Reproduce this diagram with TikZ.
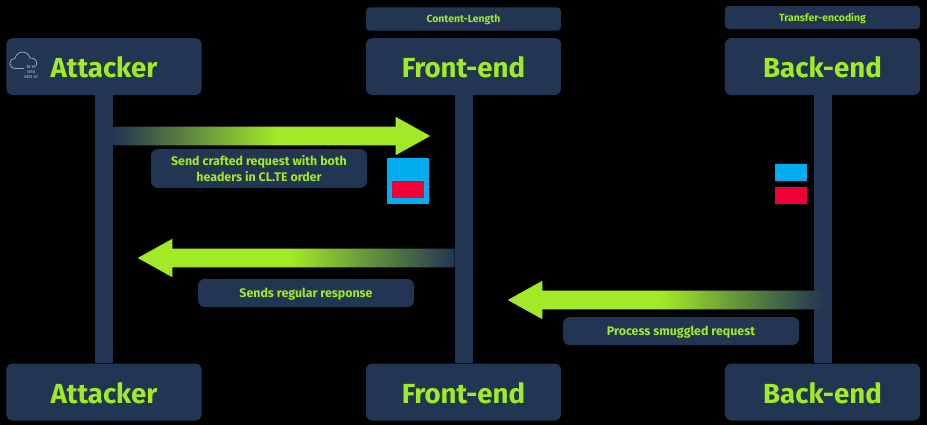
\documentclass[tikz,border=0pt]{standalone}
\usepackage{fontspec}
\setmainfont{Fira Sans}
\usetikzlibrary{shapes.arrows}
\definecolor{boxnavy}{HTML}{223552}
\definecolor{limegreen}{HTML}{A2EA27}
\definecolor{headerblue}{HTML}{00AEEF}
\definecolor{smugglered}{HTML}{EF0037}
\definecolor{cloudgray}{HTML}{9AA3AE}
\pgfdeclarehorizontalshading{fadeup}{100bp}{color(0bp)=(boxnavy); color(25bp)=(boxnavy); color(51bp)=(limegreen); color(100bp)=(limegreen)}
\pgfdeclarehorizontalshading{fadedown}{100bp}{color(0bp)=(limegreen); color(49bp)=(limegreen); color(75bp)=(boxnavy); color(100bp)=(boxnavy)}
\tikzset{
	actor/.style = {rounded corners=5pt, fill=boxnavy, text=limegreen, minimum width=146.5pt, minimum height=42.75pt, text height=16.5pt, text depth=0pt, font=\fontsize{20.7}{20.7}\selectfont\bfseries},
	headerbox/.style = {rounded corners=3pt, fill=boxnavy, text=limegreen, minimum width=146.5pt, minimum height=17.5pt, text depth=0pt, font=\fontsize{7.8}{7.8}\selectfont\bfseries},
	note/.style = {rounded corners=5pt, fill=boxnavy, text=limegreen, align=center, inner sep=0pt, font=\fontsize{9.3}{12}\selectfont\bfseries},
	lifeline/.style = {boxnavy, line width=13.5pt},
	fatarrow/.style = {single arrow, anchor=tail, inner sep=6.75pt, minimum width=28.5pt, single arrow head extend=7.5pt, single arrow tip angle=58, single arrow head indent=0pt},
	toright/.style = {fatarrow, shading=fadeup},
	toleft/.style = {fatarrow, shape border rotate=180, shading=fadedown},
	block/.style = {inner sep=0pt},
}
\begin{document}
\begin{tikzpicture}[x=0.75pt, y=-0.75pt]
	\fill[black] (0,0) rectangle (927,425);
	\useasboundingbox (0,0) rectangle (927,425);
	% top row
	\node [actor] (attacker) at (104,66.5) {Attacker};
	\node [actor] (frontend) at (463.5,66.5) {Front-end};
	\node [actor] (backend) at (822.5,66.5) {Back-end};
	\node [headerbox] (contentlength) at (463.5,19) {Content-Length};
	\node [headerbox] (transferencoding) at (822.5,17.5) {Transfer-encoding};
	% bottom row
	\node [actor] (attackerend) at (104,392) {Attacker};
	\node [actor] (frontendend) at (463.5,392) {Front-end};
	\node [actor] (backendend) at (822.5,392) {Back-end};
	% lifelines
	\draw [lifeline] (attacker.south) -- (attackerend.north);
	\draw [lifeline] (frontend.south) -- (frontendend.north);
	\draw [lifeline] (backend.south) -- (backendend.north);
	% messages
	\node [toright, minimum height=237.75pt] (sendarrow) at (113,136) {};
	\node [toleft, minimum height=237.75pt] (regulararrow) at (455,258) {};
	\node [toleft, minimum height=237pt] (smugglearrow) at (824,300) {};
	\node [note, minimum width=162pt, minimum height=29pt] (sendnote) at (259,168.5) {Send crafted request with both\\headers in CL.TE order};
	\node [note, text depth=0pt, minimum width=162pt, minimum height=21pt] (regularnote) at (306,293) {Sends regular response};
	\node [note, text depth=0pt, minimum width=177pt, minimum height=21pt] (smugglenote) at (681,331) {Process smuggled request};
	% request blocks
	\node [block, fill=headerblue, minimum width=31.5pt, minimum height=34.5pt] (frontblock) at (408,181) {};
	\node [block, fill=smugglered, minimum width=24pt, minimum height=12.75pt] (frontsmuggle) at (408,189) {};
	\node [block, fill=headerblue, minimum width=24pt, minimum height=12.75pt] (backheader) at (791,172.5) {};
	\node [block, fill=smugglered, minimum width=24pt, minimum height=12.75pt] (backsmuggle) at (791,195.5) {};
	% cloud
	\draw [cloudgray, line width=0.6pt] (24,68.5) -- (16,68.5) .. controls (8,68.5) and (8,59) .. (15,58.5) .. controls (17,50) and (28,50) .. (30,58) .. controls (36,57.5) and (38,63) .. (36,66);
	\node [text=cloudgray, inner sep=0pt, align=center, font=\fontsize{3}{3.6}\selectfont\bfseries] (cloudbits) at (31,72) {10 10\\1010\\0101 01};
\end{tikzpicture}
\end{document}
